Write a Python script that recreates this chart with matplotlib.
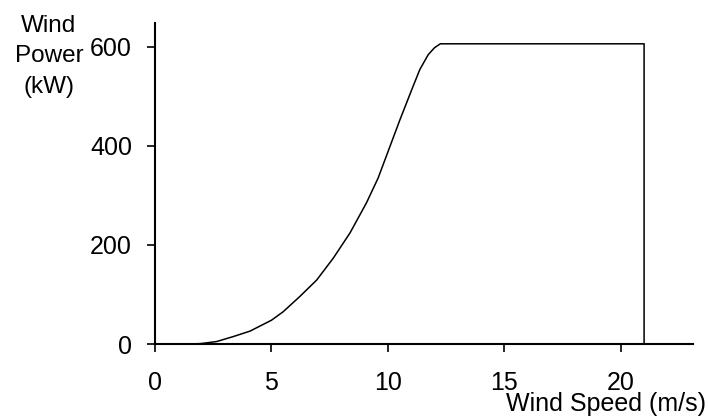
import matplotlib.pyplot as plt

plt.rcParams['font.family'] = ['Liberation Sans', 'DejaVu Sans']

# power curve
wind_speed = [0, 1.6, 2.0, 2.65, 3.36, 4.08, 5.0, 5.5, 6.22, 6.94, 7.65, 8.37,
              9.08, 9.58, 10.09, 10.52, 11.02, 11.37, 11.73, 12.0, 12.25,
              21.0, 21.0, 23.1]
wind_power = [0, 0, 1, 5, 15, 26, 48, 65, 96, 129, 173, 224,
              285, 335, 399, 453, 513, 554, 584, 598, 606,
              606, 0, 0]
x_ticks = [0, 5, 10, 15, 20]
y_ticks = [0, 200, 400, 600]

fig = plt.figure(figsize=(7.08, 4.16), dpi=100)
ax = fig.add_axes([155 / 708, 72 / 416, 538 / 708, 321 / 416])
ax.plot(wind_speed, wind_power, color='black', linewidth=1.1, clip_on=False, zorder=3)

ax.set_xlim(0, 23.1)
ax.set_ylim(0, 648)
ax.set_xticks(x_ticks)
ax.set_yticks(y_ticks)
for side in ['top', 'right']:
    ax.spines[side].set_visible(False)
for side in ['left', 'bottom']:
    ax.spines[side].set_linewidth(1.5)
ax.tick_params(axis='x', direction='out', length=5.5, width=1.2, pad=14, labelsize=18)
ax.tick_params(axis='y', direction='out', length=5.5, width=1.2, pad=11, labelsize=18)

fig.text(49 / 708, 1 - 56 / 416, 'Wind\nPower\n(kW)', ha='center', va='center',
         fontsize=17.5, linespacing=1.5)
fig.text(706 / 708, 5 / 416, 'Wind Speed (m/s)', ha='right', va='baseline', fontsize=18)

fig.savefig('out.png', dpi=100)
